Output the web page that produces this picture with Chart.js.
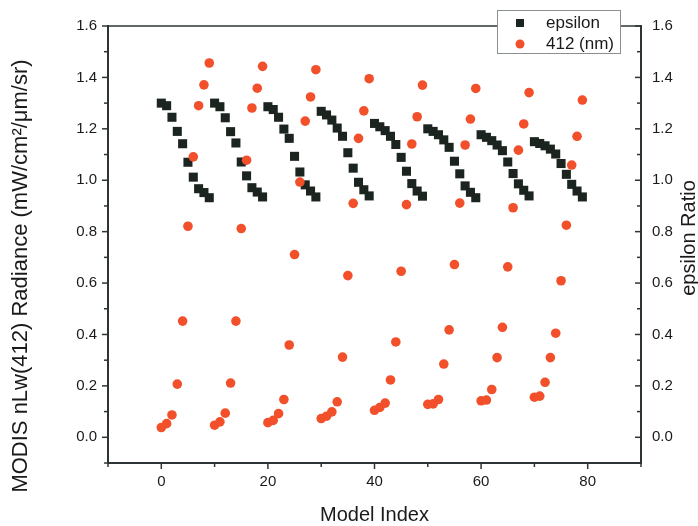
<!DOCTYPE html>
<html>
<head>
<meta charset="utf-8">
<script src="https://cdn.jsdelivr.net/npm/chart.js@4"></script>
<style>
  html, body { margin: 0; padding: 0; background: #ffffff; }
  #wrap { width: 698px; height: 526px; }
</style>
</head>
<body>
<div id="wrap"><canvas id="c" width="698" height="526"></canvas></div>
<script>
// ---- data ----
const modelIndex = [
  0,1,2,3,4,5,6,7,8,9,
  10,11,12,13,14,15,16,17,18,19,
  20,21,22,23,24,25,26,27,28,29,
  30,31,32,33,34,35,36,37,38,39,
  40,41,42,43,44,45,46,47,48,49,
  50,51,52,53,54,55,56,57,58,59,
  60,61,62,63,64,65,66,67,68,69,
  70,71,72,73,74,75,76,77,78,79
];
const epsilonRatio = [
  1.300,1.290,1.245,1.190,1.142,1.070,1.012,0.967,0.952,0.932,
  1.300,1.286,1.243,1.189,1.145,1.071,1.017,0.971,0.954,0.935,
  1.286,1.275,1.245,1.199,1.163,1.093,1.032,0.982,0.958,0.935,
  1.268,1.254,1.234,1.203,1.171,1.107,1.047,0.992,0.963,0.939,
  1.221,1.208,1.193,1.171,1.139,1.089,1.035,0.987,0.958,0.938,
  1.200,1.190,1.177,1.157,1.128,1.074,1.025,0.978,0.953,0.932,
  1.177,1.167,1.154,1.137,1.115,1.071,1.026,0.986,0.961,0.939,
  1.150,1.143,1.134,1.121,1.102,1.065,1.023,0.984,0.958,0.935
];
const nLw412 = [
  0.038,0.053,0.087,0.207,0.452,0.821,1.091,1.290,1.371,1.456,
  0.047,0.060,0.094,0.211,0.452,0.812,1.078,1.281,1.358,1.443,
  0.057,0.066,0.092,0.147,0.359,0.711,0.993,1.230,1.324,1.430,
  0.073,0.082,0.099,0.138,0.312,0.629,0.910,1.163,1.270,1.395,
  0.105,0.116,0.133,0.223,0.371,0.646,0.905,1.141,1.247,1.370,
  0.128,0.130,0.147,0.285,0.418,0.672,0.911,1.137,1.238,1.357,
  0.142,0.145,0.186,0.310,0.428,0.663,0.893,1.117,1.219,1.341,
  0.156,0.160,0.214,0.310,0.405,0.609,0.825,1.059,1.171,1.312
];
const seriesNames = ['epsilon', '412 (nm)'];
const xTitle = 'Model Index';
const yTitle = 'MODIS nLw(412) Radiance (mW/cm\u00B2/\u03BCm/sr)';
const y2Title = 'epsilon Ratio';

// ---- styling ----
const FONT = '"Liberation Sans", Arial, sans-serif';
const axisColor = '#2e3436';
const textColor = '#1a1a1a';
const epsColor = '#1b241f';
const redColor = '#f2502b';

const epsPoints = modelIndex.map((x, i) => ({ x: x, y: epsilonRatio[i] }));
const redPoints = modelIndex.map((x, i) => ({ x: x, y: nLw412[i] }));

function isMajorY(v) { return Math.round(v * 10) % 2 === 0; }
function isMajorX(v) { return Math.round(v) % 20 === 0; }

const decorPlugin = {
  id: 'decor',
  afterDraw(chart) {
    const ctx = chart.ctx, a = chart.chartArea;
    const sx = chart.scales.x, sy = chart.scales.y, sy2 = chart.scales.y2;
    ctx.save();
    ctx.strokeStyle = axisColor;
    ctx.lineWidth = 1.5;
    const line = (x1, y1, x2, y2) => { ctx.beginPath(); ctx.moveTo(x1, y1); ctx.lineTo(x2, y2); ctx.stroke(); };
    // top frame line
    line(a.left, a.top, a.right, a.top);
    // ticks
    sy.ticks.forEach(t => {
      const py = sy.getPixelForValue(t.value);
      const len = isMajorY(t.value) ? 6 : 4;
      line(a.left - len, py, a.left, py);
    });
    sy2.ticks.forEach(t => {
      const py = sy2.getPixelForValue(t.value);
      const len = isMajorY(t.value) ? 6 : 4;
      line(a.right - len, py, a.right, py);
    });
    sx.ticks.forEach(t => {
      const px = sx.getPixelForValue(t.value);
      const len = isMajorX(t.value) ? 6 : 4;
      line(px, a.bottom, px, a.bottom + len);
    });
    // axis titles
    ctx.fillStyle = textColor;
    ctx.textAlign = 'center';
    ctx.textBaseline = 'middle';
    ctx.font = '20px ' + FONT;
    ctx.fillText(xTitle, (a.left + a.right) / 2, 515);
    ctx.save();
    ctx.translate(21, 276);
    ctx.rotate(-Math.PI / 2);
    ctx.font = '22px ' + FONT;
    ctx.fillText(yTitle, 0, 0);
    ctx.restore();
    ctx.save();
    ctx.translate(689, 238);
    ctx.rotate(-Math.PI / 2);
    ctx.font = '20px ' + FONT;
    ctx.fillText(y2Title, 0, 0);
    ctx.restore();
    // legend
    const lx = 497, ly = 10, lw = 123, lh = 43;
    ctx.fillStyle = '#ffffff';
    ctx.fillRect(lx, ly, lw, lh);
    ctx.strokeStyle = '#8a8f94';
    ctx.lineWidth = 1;
    ctx.strokeRect(lx + 0.5, ly + 0.5, lw, lh);
    ctx.fillStyle = epsColor;
    ctx.fillRect(516, 19, 8, 8);
    ctx.fillStyle = redColor;
    ctx.beginPath(); ctx.arc(520, 44, 4.5, 0, Math.PI * 2); ctx.fill();
    ctx.fillStyle = textColor;
    ctx.font = '17px ' + FONT;
    ctx.textAlign = 'left';
    ctx.fillText(seriesNames[0], 546, 23);
    ctx.fillText(seriesNames[1], 546, 44);
    ctx.restore();
  }
};

new Chart(document.getElementById('c'), {
  type: 'scatter',
  data: {
    datasets: [
      {
        label: seriesNames[0],
        data: epsPoints,
        yAxisID: 'y2',
        pointStyle: 'rect',
        pointRadius: 6.4,
        pointHoverRadius: 6.4,
        backgroundColor: epsColor,
        borderColor: epsColor,
        borderWidth: 0,
        order: 1
      },
      {
        label: seriesNames[1],
        data: redPoints,
        yAxisID: 'y',
        pointStyle: 'circle',
        pointRadius: 4.8,
        pointHoverRadius: 4.8,
        backgroundColor: redColor,
        borderColor: redColor,
        borderWidth: 0,
        order: 0
      }
    ]
  },
  options: {
    responsive: false,
    animation: false,
    devicePixelRatio: 1,
    layout: { padding: { top: 26, left: 0, right: 0, bottom: 0 } },
    plugins: { legend: { display: false }, tooltip: { enabled: false } },
    scales: {
      x: {
        type: 'linear',
        position: 'bottom',
        min: -10, max: 90,
        afterFit(s) { s.height = 63; },
        grid: { display: false, drawTicks: false },
        border: { display: true, color: axisColor, width: 2 },
        ticks: {
          stepSize: 10,
          padding: 10,
          color: textColor,
          font: { family: FONT, size: 15 },
          maxRotation: 0,
          autoSkip: false,
          callback: v => isMajorX(v) && v >= 0 && v <= 80 ? String(Math.round(v)) : ''
        }
      },
      y: {
        type: 'linear',
        position: 'left',
        min: -0.1, max: 1.6,
        afterFit(s) { s.width = 108; },
        grid: { display: false, drawTicks: false },
        border: { display: true, color: axisColor, width: 2 },
        ticks: {
          stepSize: 0.1,
          padding: 11,
          color: textColor,
          font: { family: FONT, size: 15 },
          autoSkip: false,
          callback: v => (isMajorY(v) && v > -0.05) ? v.toFixed(1) : ''
        }
      },
      y2: {
        type: 'linear',
        position: 'right',
        min: -0.1, max: 1.6,
        afterFit(s) { s.width = 57; },
        grid: { display: false, drawTicks: false },
        border: { display: true, color: axisColor, width: 2 },
        ticks: {
          stepSize: 0.1,
          padding: 11,
          color: textColor,
          font: { family: FONT, size: 15 },
          autoSkip: false,
          callback: v => (isMajorY(v) && v > -0.05) ? v.toFixed(1) : ''
        }
      }
    }
  },
  plugins: [decorPlugin]
});
</script>
</body>
</html>
